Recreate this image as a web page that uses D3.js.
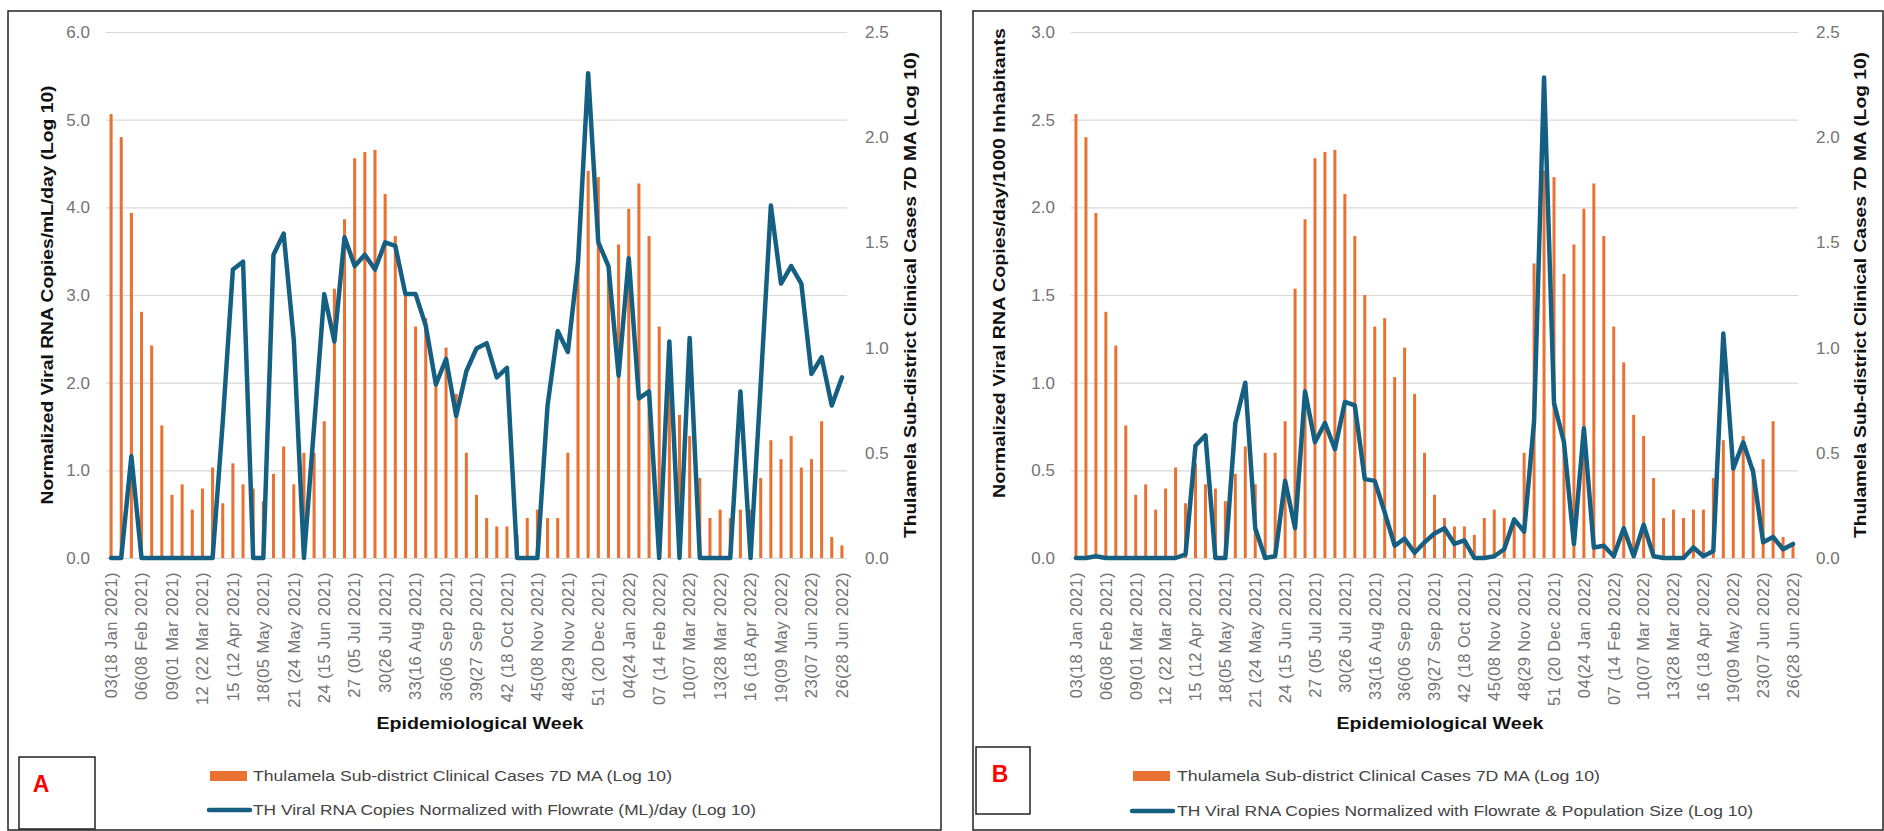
<!DOCTYPE html>
<html>
<head>
<meta charset="utf-8">
<script src="https://cdn.jsdelivr.net/npm/d3@7/dist/d3.min.js"></script>
<style>
  body { margin: 0; background: #fff; }
  svg { display: block; font-family: "Liberation Sans", Arial, sans-serif; }
</style>
</head>
<body>
<svg id="chart"></svg>
<script>
// epi week labels, one every 3rd category
const weekLabels = [
    "03(18 Jan 2021)", "06(08 Feb 2021)", "09(01 Mar 2021)", "12 (22 Mar 2021)", "15 (12 Apr 2021)",
    "18(05 May 2021)", "21 (24 May 2021)", "24 (15 Jun 2021)", "27 (05 Jul 2021)", "30(26 Jul 2021)",
    "33(16 Aug 2021)", "36(06 Sep 2021)", "39(27 Sep 2021)", "42 (18 Oct 2021)", "45(08 Nov 2021)",
    "48(29 Nov 2021)", "51 (20 Dec 2021)", "04(24 Jan 2022)", "07 (14 Feb 2022)", "10(07 Mar 2022)",
    "13(28 Mar 2022)", "16 (18 Apr 2022)", "19(09 May 2022)", "23(07 Jun 2022)", "26(28 Jun 2022)"
];

// Thulamela clinical cases 7D MA (log10) - same series in both panels, right axis
const clinicalCases = [
    2.11, 2.00, 1.64, 1.17, 1.01, 0.63, 0.30, 0.35, 0.23, 0.33,
    0.43, 0.26, 0.45, 0.35, 0.33, 0.27, 0.40, 0.53, 0.35, 0.50,
    0.50, 0.65, 1.28, 1.61, 1.90, 1.93, 1.94, 1.73, 1.53, 1.25,
    1.10, 1.14, 0.86, 1.00, 0.78, 0.50, 0.30, 0.19, 0.15, 0.15,
    0.11, 0.19, 0.23, 0.19, 0.19, 0.50, 1.40, 1.84, 1.81, 1.35,
    1.49, 1.66, 1.78, 1.53, 1.10, 0.93, 0.68, 0.58, 0.38, 0.19,
    0.23, 0.19, 0.23, 0.23, 0.38, 0.56, 0.47, 0.58, 0.43, 0.47,
    0.65, 0.10, 0.06
];

// panel A line: viral RNA copies normalized with flowrate (log10)
const rnaFlowrate = [
    0, 0, 1.16, 0, 0, 0, 0, 0, 0, 0,
    0, 1.55, 3.29, 3.38, 0, 0, 3.46, 3.70, 2.49, 0,
    1.50, 3.01, 2.47, 3.66, 3.33, 3.46, 3.29, 3.60, 3.56, 3.01,
    3.01, 2.65, 1.98, 2.27, 1.62, 2.13, 2.39, 2.45, 2.06, 2.17,
    0, 0, 0, 1.74, 2.59, 2.35, 3.37, 5.53, 3.60, 3.33,
    2.08, 3.42, 1.82, 1.90, 0, 2.47, 0, 2.51, 0, 0,
    0, 0, 1.90, 0, 1.98, 4.02, 3.13, 3.33, 3.13, 2.10,
    2.29, 1.74, 2.06
];

// panel B line: viral RNA copies normalized with flowrate & population (log10)
const rnaFlowPop = [
    0, 0, 0.01, 0, 0, 0, 0, 0, 0, 0,
    0, 0.02, 0.64, 0.70, 0, 0, 0.77, 1.00, 0.17, 0,
    0.01, 0.44, 0.17, 0.95, 0.66, 0.77, 0.62, 0.89, 0.87, 0.45,
    0.44, 0.26, 0.07, 0.11, 0.03, 0.09, 0.14, 0.17, 0.08, 0.10,
    0, 0, 0.01, 0.05, 0.22, 0.15, 0.78, 2.74, 0.885, 0.66,
    0.08, 0.74, 0.06, 0.07, 0.01, 0.17, 0.01, 0.19, 0.01, 0,
    0, 0, 0.06, 0.01, 0.04, 1.28, 0.51, 0.66, 0.49, 0.09,
    0.12, 0.05, 0.08
];

const barLegend = "Thulamela Sub-district Clinical Cases 7D MA (Log 10)";
const rightTitle = "Thulamela Sub-district Clinical Cases 7D MA (Log 10)";

const width = 1884;
const height = 831;
const plotTop = 32;
const plotBottom = 558;
const orange = "#E97132";
const blue = "#156082";
const grey = "#747474";

const svg = d3.select('#chart')
    .attr('width', width)
    .attr('height', height)
    .attr('viewBox', `0 0 ${width} ${height}`);

const panels = [
    {
        tag: "A", frame: [8, 11, 941, 830], left: 106, right: 847,
        yMax: 6, yStep: 1, line: rnaFlowrate,
        yTitle: "Normalized Viral RNA Copies/mL/day (Log 10)", yTitleX: 47, yTitleY: 295, yTitleLen: 419,
        rTitleX: 910, box: [19, 757, 76, 72], letter: [41, 792],
        swatchX: 209, legendX: 253, legendLen: [419, 503], legendY: [776, 810],
        lineLegend: "TH Viral RNA Copies Normalized with Flowrate (ML)/day (Log 10)",
        xTitleX: 480
    },
    {
        tag: "B", frame: [973, 11, 1883, 830], left: 1071, right: 1798,
        yMax: 3, yStep: 0.5, line: rnaFlowPop,
        yTitle: "Normalized Viral RNA Copies/day/1000 Inhabitants", yTitleX: 999, yTitleY: 263, yTitleLen: 470,
        rTitleX: 1860, box: [976, 747, 54, 67], letter: [1000, 782],
        swatchX: 1132, legendX: 1177, legendLen: [423, 576], legendY: [776, 811],
        lineLegend: "TH Viral RNA Copies Normalized with Flowrate & Population Size (Log 10)",
        xTitleX: 1440
    }
];

panels.forEach(drawPanel);

function drawPanel(p) {
    const g = svg.append("g");

    // panel frame
    g.append("rect")
        .attr("x", p.frame[0]).attr("y", p.frame[1])
        .attr("width", p.frame[2] - p.frame[0]).attr("height", p.frame[3] - p.frame[1])
        .attr("fill", "none").attr("stroke", "#222").attr("stroke-width", 1.5);

    const idx = d3.range(clinicalCases.length);
    const x = d3.scaleBand()
        .domain(idx)
        .range([p.left, p.right])
        .paddingInner(0.7)
        .paddingOuter(0.35);
    const cx = i => x(i) + x.bandwidth() / 2;

    const y = d3.scaleLinear().domain([0, p.yMax]).range([plotBottom, plotTop]);
    const y2 = d3.scaleLinear().domain([0, 2.5]).range([plotBottom, plotTop]);

    // left axis + gridlines
    g.append("g")
        .attr("transform", `translate(${p.left},0)`)
        .call(d3.axisLeft(y)
            .tickValues(d3.range(0, p.yMax + 1e-9, p.yStep))
            .tickFormat(d3.format(".1f"))
            .tickSize(-(p.right - p.left))
            .tickPadding(16))
        .call(a => a.select(".domain").remove())
        .call(a => a.selectAll(".tick line").attr("stroke", "#d9d9d9").attr("stroke-width", 1.2))
        .call(a => a.selectAll(".tick text").attr("fill", grey).attr("font-size", 17)
            .attr("font-family", '"Liberation Sans", Arial, sans-serif'));

    // right axis
    g.append("g")
        .attr("transform", `translate(${p.right},0)`)
        .call(d3.axisRight(y2)
            .tickValues(d3.range(0, 2.5 + 1e-9, 0.5))
            .tickFormat(d3.format(".1f"))
            .tickSize(0)
            .tickPadding(18))
        .call(a => a.select(".domain").remove())
        .call(a => a.selectAll(".tick text").attr("fill", grey).attr("font-size", 17)
            .attr("font-family", '"Liberation Sans", Arial, sans-serif'));

    // x axis with rotated week labels
    g.append("g")
        .attr("transform", `translate(0,${plotBottom})`)
        .call(d3.axisBottom(x)
            .tickValues(idx.filter(i => i % 3 === 0))
            .tickFormat(i => weekLabels[i / 3])
            .tickSize(0))
        .call(a => a.select(".domain").remove())
        .call(a => a.selectAll(".tick text")
            .attr("transform", "rotate(-90)")
            .attr("text-anchor", "end")
            .attr("x", -14)
            .attr("y", 0)
            .attr("dy", "0.35em")
            .attr("fill", grey)
            .attr("font-size", 16.5)
            .attr("letter-spacing", 0.4)
            .attr("font-family", '"Liberation Sans", Arial, sans-serif'));

    // bars (right axis)
    g.append("g")
        .attr("fill", orange)
        .selectAll("rect")
        .data(clinicalCases)
        .join("rect")
        .attr("x", (d, i) => x(i))
        .attr("width", x.bandwidth())
        .attr("y", d => y2(d))
        .attr("height", d => y2(0) - y2(d));

    // line (left axis)
    const line = d3.line()
        .x((d, i) => cx(i))
        .y(d => y(d));

    g.append("path")
        .datum(p.line)
        .attr("fill", "none")
        .attr("stroke", blue)
        .attr("stroke-width", 4.5)
        .attr("stroke-linejoin", "round")
        .attr("stroke-linecap", "round")
        .attr("d", line);

    // axis titles
    g.append("text")
        .attr("transform", `translate(${p.yTitleX},${p.yTitleY}) rotate(-90)`)
        .attr("text-anchor", "middle")
        .attr("dy", "0.35em")
        .attr("font-weight", "bold")
        .attr("font-size", 16)
        .attr("fill", "#111")
        .attr("textLength", p.yTitleLen)
        .attr("lengthAdjust", "spacingAndGlyphs")
        .text(p.yTitle);

    g.append("text")
        .attr("transform", `translate(${p.rTitleX},295) rotate(-90)`)
        .attr("text-anchor", "middle")
        .attr("dy", "0.35em")
        .attr("font-weight", "bold")
        .attr("font-size", 16)
        .attr("fill", "#111")
        .attr("textLength", 486)
        .attr("lengthAdjust", "spacingAndGlyphs")
        .text(rightTitle);

    g.append("text")
        .attr("x", p.xTitleX)
        .attr("y", 729)
        .attr("text-anchor", "middle")
        .attr("font-weight", "bold")
        .attr("font-size", 17)
        .attr("fill", "#111")
        .attr("textLength", 207)
        .attr("lengthAdjust", "spacingAndGlyphs")
        .text("Epidemiological Week");

    // panel letter box
    g.append("rect")
        .attr("x", p.box[0]).attr("y", p.box[1])
        .attr("width", p.box[2]).attr("height", p.box[3])
        .attr("fill", "none").attr("stroke", "#222").attr("stroke-width", 1.5);

    g.append("text")
        .attr("x", p.letter[0]).attr("y", p.letter[1])
        .attr("text-anchor", "middle")
        .attr("font-weight", "bold")
        .attr("font-size", 23)
        .attr("fill", "#ff0000")
        .text(p.tag);

    // legend
    g.append("rect")
        .attr("x", p.swatchX + 1).attr("y", p.legendY[0] - 5)
        .attr("width", 37).attr("height", 10)
        .attr("fill", orange);

    g.append("line")
        .attr("x1", p.swatchX).attr("x2", p.swatchX + 41)
        .attr("y1", p.legendY[1]).attr("y2", p.legendY[1])
        .attr("stroke", blue).attr("stroke-width", 4.5).attr("stroke-linecap", "round");

    [barLegend, p.lineLegend].forEach((t, k) => {
        g.append("text")
            .attr("x", p.legendX)
            .attr("y", p.legendY[k])
            .attr("dy", "0.35em")
            .attr("font-size", 15.5)
            .attr("fill", "#444")
            .attr("font-family", '"Liberation Sans Narrow", "Liberation Sans", Arial, sans-serif')
            .attr("textLength", p.legendLen[k])
            .attr("lengthAdjust", "spacingAndGlyphs")
            .text(t);
    });
}
</script>
</body>
</html>
